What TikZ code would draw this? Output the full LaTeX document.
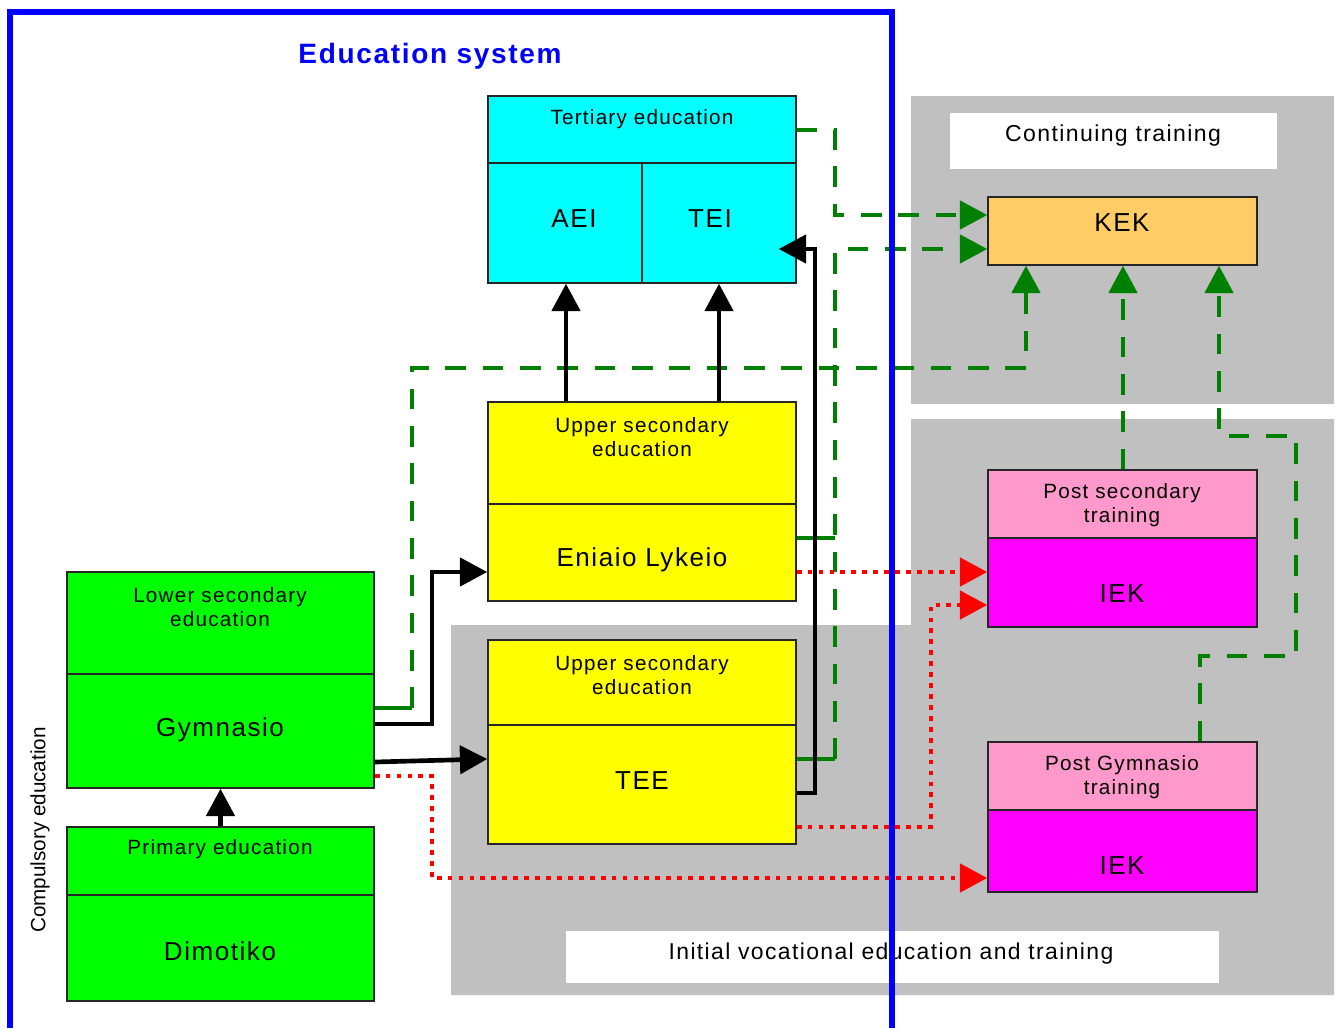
\documentclass[tikz,border=0pt]{standalone}
\usepackage{fontspec}
\setmainfont{Liberation Sans}[LetterSpace=6]
\newfontfamily\plainfont{Liberation Sans}
\usetikzlibrary{arrows.meta,fit}
\definecolor{cyanC}{HTML}{00FFFF}
\definecolor{yelC}{HTML}{FFFF00}
\definecolor{grnC}{HTML}{00FF00}
\definecolor{pinkC}{HTML}{FF99CC}
\definecolor{magC}{HTML}{FF00FF}
\definecolor{orgC}{HTML}{FFCC66}
\definecolor{grayC}{HTML}{C0C0C0}
\definecolor{dgreen}{HTML}{008000}
\definecolor{redC}{HTML}{FF0000}
\definecolor{blueC}{HTML}{0000FF}
\begin{document}
\begin{tikzpicture}[x=0.75pt,y=-0.75pt,
  box/.style={draw=black!85, line width=1.1pt, inner sep=0pt},
  small/.style={inner sep=0pt, align=center, font=\fontsize{15.5}{18}\selectfont},
  big/.style={inner sep=0pt, font=\fontsize{19.5}{22}\selectfont},
  tip/.style={-{Triangle[length=20.5pt,width=21pt]}},
  blk/.style={draw=black, line width=3.5pt, tip},
  gline/.style={draw=dgreen, line width=2.8pt},
  gdash/.style={draw=dgreen, line width=3.5pt, dash pattern=on 15.5pt off 12.5pt, tip},
  reddot/.style={draw=redC, line width=3.6pt, dash pattern=on 3.6pt off 4.6pt, tip}]
\useasboundingbox (0,0) rectangle (1337,1028);
% backgrounds
\fill[grayC] (911,96) rectangle (1334,404);
\fill[grayC] (911,419) -- (1334,419) -- (1334,995) -- (451,995) -- (451,625) -- (911,625) -- cycle;
\node[fill=white, inner sep=0pt, fit={(950,113)(1277,169)}] (ctbox) {};
\node[fill=white, inner sep=0pt, fit={(566,931)(1219,983)}] (ivbox) {};
\node[inner sep=0pt, font=\fontsize{17.3}{20}\selectfont] (cttext) at (1113,136) {Continuing training};
\node[inner sep=0pt, font=\fontsize{17.2}{20}\selectfont] (ivtext) at (891,954) {Initial vocational education and training};
% coordinates
\coordinate (xA) at (566,0);
\coordinate (xB) at (719,0);
\coordinate (x412) at (412,0);
\coordinate (x432) at (432,0);
\coordinate (x815) at (815,0);
\coordinate (x835) at (835,0);
\coordinate (x931) at (931,0);
\coordinate (x1026) at (1026,0);
\coordinate (x1123) at (1123,0);
\coordinate (x1200) at (1200,0);
\coordinate (x1219) at (1219,0);
\coordinate (x1296) at (1296,0);
\coordinate (y130) at (0,130);
\coordinate (y215) at (0,215);
\coordinate (y249) at (0,249);
\coordinate (y368) at (0,368);
\coordinate (y436) at (0,436);
\coordinate (y538) at (0,538);
\coordinate (y572) at (0,572);
\coordinate (y605) at (0,605);
\coordinate (y656) at (0,656);
\coordinate (y708) at (0,708);
\coordinate (y724) at (0,724);
\coordinate (y759) at (0,759);
\coordinate (y762) at (0,762);
\coordinate (y776) at (0,776);
\coordinate (y793) at (0,793);
\coordinate (y827) at (0,827);
\coordinate (y878) at (0,878);
% boxes
\node[box, fill=cyanC, fit={(488,96)(796,163)}] (terH) {};
\node[box, fill=cyanC, fit={(488,163)(642,283)}] (aei) {};
\node[box, fill=cyanC, fit={(642,163)(796,283)}] (tei) {};
\node[box, fill=yelC, fit={(488,402)(796,504)}] (lykH) {};
\node[box, fill=yelC, fit={(488,504)(796,601)}] (lykB) {};
\node[box, fill=yelC, fit={(488,640)(796,725)}] (teeH) {};
\node[box, fill=yelC, fit={(488,725)(796,844)}] (teeB) {};
\node[box, fill=grnC, fit={(67,572)(374,674)}] (gymH) {};
\node[box, fill=grnC, fit={(67,674)(374,788)}] (gymB) {};
\node[box, fill=grnC, fit={(67,827)(374,895)}] (priH) {};
\node[box, fill=grnC, fit={(67,895)(374,1001)}] (priB) {};
\node[box, fill=orgC, fit={(988,197)(1257,265)}] (kek) {};
\node[box, fill=pinkC, fit={(988,470)(1257,538)}] (psH) {};
\node[box, fill=magC, fit={(988,538)(1257,627)}] (psB) {};
\node[box, fill=pinkC, fit={(988,742)(1257,810)}] (pgH) {};
\node[box, fill=magC, fit={(988,810)(1257,892)}] (pgB) {};
% texts
\node[small] (terT) at (642,119) {Tertiary education};
\node[big] (aeiT) at (574,219) {AEI};
\node[big] (teiT) at (710,219) {TEI};
\node[small] (lykHT) at (642,437) {Upper secondary\\education};
\node[big] (lykBT) at (642,560) {Eniaio Lykeio};
\node[small] (teeHT) at (642,675) {Upper secondary\\education};
\node[big] (teeBT) at (642,781) {TEE};
\node[small] (gymHT) at (220,607) {Lower secondary\\education};
\node[big] (gymBT) at (220,730) {Gymnasio};
\node[small] (priHT) at (220,849) {Primary education};
\node[big] (priBT) at (220,951) {Dimotiko};
\node[big] (kekT) at (1122,223) {KEK};
\node[small] (psHT) at (1122,505) {Post secondary\\training};
\node[big] (psBT) at (1122,594) {IEK};
\node[small] (pgHT) at (1122,777) {Post Gymnasio\\training};
\node[big] (pgBT) at (1122,866) {IEK};
\node[inner sep=0pt, rotate=90, font=\plainfont\fontsize{15.5}{18}\selectfont] (comp) at (40,830) {Compulsory education};
% green dashed
\draw[gdash] (terH.east |- y130) -- (x835 |- y130) -- (x835 |- y215) -- (kek.west |- y215);
\draw[gline] (lykB.east |- y538) -- (x835 |- y538);
\draw[gline] (teeB.east |- y759) -- (x835 |- y759);
\draw[gdash] (x835 |- y759) -- (x835 |- y249) -- (kek.west |- y249);
\draw[gline] (gymB.east |- y708) -- (x412 |- y708);
\draw[gdash] (x412 |- y708) -- (x412 |- y368) -- (x1026 |- y368) -- (x1026 |- kek.south);
\draw[gdash] (psH.north -| x1123) -- (kek.south -| x1123);
\draw[gdash] (pgH.north -| x1200) -- (x1200 |- y656) -- (x1296 |- y656) -- (x1296 |- y436) -- (x1219 |- y436) -- (kek.south -| x1219);
% red dotted
\draw[reddot] (lykB.east |- y572) -- (psB.west |- y572);
\draw[reddot] (teeB.east |- y827) -- (x931 |- y827) -- (x931 |- y605) -- (psB.west |- y605);
\draw[reddot] (gymB.east |- y776) -- (x432 |- y776) -- (x432 |- y878) -- (pgB.west |- y878);
% black
\draw[blk] (lykH.north -| xA) -- (aei.south -| xA);
\draw[blk] (lykH.north -| xB) -- (tei.south -| xB);
\draw[blk, shorten >=-13.5pt] (teeB.east |- y793) -- (x815 |- y793) -- (x815 |- y249) -- (tei.east |- y249);
\draw[blk] (gymB.east |- y724) -- (x432 |- y724) -- (x432 |- y572) -- (lykB.west |- y572);
\draw[blk] (gymB.east |- y762) -- (teeB.west |- y759);
\draw[blk] (priH.north) -- (gymB.south);
% frame and title
\draw[blueC, line width=4pt] (10,1028) -- (10,12) -- (892,12) -- (892,1028);
\node[inner sep=0pt, text=blueC, font=\bfseries\fontsize{21}{24}\selectfont] (title) at (430,56) {Education system};
\end{tikzpicture}
\end{document}
